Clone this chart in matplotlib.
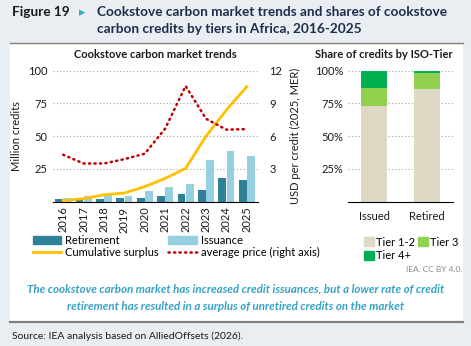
import numpy as np
import matplotlib.pyplot as plt
from matplotlib.patches import Rectangle
from matplotlib.lines import Line2D

plt.rcParams['font.family'] = ['Lato', 'DejaVu Sans']

#### data
years       = ['2016', '2017', '2018', '2019', '2020', '2021', '2022', '2023', '2024', '2025']
retirement  = [1.8, 1.0, 2.0, 3.0, 2.8, 4.3, 5.9, 8.9, 17.8, 16.5]
issuance    = [2.5, 4.0, 5.0, 4.3, 8.1, 11.0, 13.5, 31.8, 38.9, 35.1]
cum_surplus = [0.8, 2.3, 5.3, 6.6, 11.5, 17.8, 25.4, 50.0, 70.0, 87.8]
avg_price   = [4.3, 3.5, 3.5, 3.9, 4.4, 6.7, 10.6, 7.6, 6.6, 6.65]

share_cats = ['Issued', 'Retired']
tier12     = [73.3, 86.3]
tier3      = [13.2, 12.2]
tier4      = [13.5, 1.5]

### colours
c_bg     = '#e9eef3'
c_ret    = '#2e8198'
c_iss    = '#95cfe0'
c_surp   = '#ffc000'
c_price  = '#c00000'
c_t12    = '#ddd9c4'
c_t3     = '#92d050'
c_t4     = '#00b050'
c_grid   = '#a6a6a6'
c_txt    = '#1a1a1a'

W, H = 471, 346
fig = plt.figure(figsize=(W / 100, H / 100), dpi=100)
fig.patch.set_facecolor(c_bg)

def fx(px):
    return px / W

def fy(py):
    return 1 - py / H

# white panel + rules
fig.patches.append(Rectangle((fx(10), fy(322)), fx(453), (322 - 43) / H,
                             transform=fig.transFigure, facecolor='white', edgecolor='none', zorder=-5))
fig.add_artist(Line2D([fx(10), fx(463)], [fy(43), fy(43)], color='#7f7f7f', lw=1.0))
fig.add_artist(Line2D([fx(10), fx(463)], [fy(322), fy(322)], color='#7f7f7f', lw=1.6))

### header
fig.text(fx(12), fy(12), 'Figure 19', fontsize=9.8, fontweight='bold', color=c_txt, va='center')
fig.text(fx(79), fy(12), '\u25B8', fontsize=9, color='#3aa6d0', va='center')
fig.text(fx(97), fy(12), 'Cookstove carbon market trends and shares of cookstove',
         fontsize=9.8, fontweight='bold', color='#1f2d4d', va='center')
fig.text(fx(97), fy(29), 'carbon credits by tiers in Africa, 2016-2025',
         fontsize=9.8, fontweight='bold', color='#1f2d4d', va='center')

### left chart
ax = fig.add_axes([fx(53), fy(201.7), fx(205), 131 / H])
x = np.arange(len(years))
ax.bar(x - 0.2, retirement, width=0.38, color=c_ret, zorder=2)
ax.bar(x + 0.2, issuance, width=0.38, color=c_iss, zorder=2)
ax.plot(x, cum_surplus, color=c_surp, lw=2, zorder=3)
ax.set_xlim(-0.5, 9.55)
ax.set_ylim(0, 100)
ax.set_yticks([25, 50, 75, 100])
ax.yaxis.grid(True, color=c_grid, ls=(0, (1, 2)), lw=0.8)
ax.set_xticks(x)
ax.set_xticklabels(years, rotation=90, fontsize=8, color=c_txt)
ax.tick_params(axis='both', length=0, labelsize=8, colors=c_txt)
ax.tick_params(axis='y', pad=4)
for s in ['left', 'right', 'top']:
    ax.spines[s].set_visible(False)
ax.spines['bottom'].set_color('black')
ax.set_ylabel('Million credits', fontsize=8, color=c_txt, labelpad=4)
ax.set_title('Cookstove carbon market trends', fontsize=8, fontweight='bold', color=c_txt, pad=9)

ax2 = ax.twinx()
ax2.plot(x, avg_price, color=c_price, lw=1.8, ls=(0, (0.5, 1.7)), dash_capstyle='round', zorder=4)
ax2.set_ylim(0, 12)
ax2.set_yticks([3, 6, 9, 12])
ax2.tick_params(axis='y', length=0, labelsize=8, colors=c_txt, pad=8)
for s in ax2.spines.values():
    s.set_visible(False)
ax2.set_ylabel('USD per credit (2025, MER)', fontsize=8, color=c_txt, labelpad=6)

handles = [Rectangle((0, 0), 1, 1, color=c_ret),
           Line2D([], [], color=c_surp, lw=2),
           Rectangle((0, 0), 1, 1, color=c_iss),
           Line2D([], [], color=c_price, lw=1.8, ls=(0, (0.5, 1.7)), dash_capstyle='round')]
labels = ['Retirement', 'Cumulative surplus', 'Issuance', 'average price (right axis)']
fig.legend(handles, labels, ncol=2, loc='upper left', bbox_to_anchor=(fx(27), fy(229)),
           frameon=False, fontsize=8, handlelength=2.6, handleheight=0.7,
           labelspacing=0.15, columnspacing=0.9, handletextpad=0.3, borderpad=0)

### right chart
axr = fig.add_axes([fx(348), fy(201.7), fx(105), 131 / H])
xr = np.arange(len(share_cats))
b12 = np.array(tier12)
b3 = np.array(tier3)
axr.bar(xr, tier12, width=0.5, color=c_t12, zorder=2)
axr.bar(xr, tier3, width=0.5, bottom=b12, color=c_t3, zorder=2)
axr.bar(xr, tier4, width=0.5, bottom=b12 + b3, color=c_t4, zorder=2)
axr.set_xlim(-0.5, 1.5)
axr.set_ylim(0, 100)
axr.set_yticks([25, 50, 75, 100])
axr.set_yticklabels(['25%', '50%', '75%', '100%'])
axr.yaxis.grid(True, color=c_grid, ls=(0, (1, 2)), lw=0.8)
axr.set_xticks(xr)
axr.set_xticklabels(share_cats)
axr.tick_params(axis='both', length=0, labelsize=8, colors=c_txt)
axr.tick_params(axis='x', pad=7)
for s in ['left', 'right', 'top']:
    axr.spines[s].set_visible(False)
axr.spines['bottom'].set_color('black')
axr.set_title('Share of credits by ISO-Tier', fontsize=8, fontweight='bold', color=c_txt,
              pad=9, loc='right')

th = [Rectangle((0, 0), 1, 1, color=c_t12), Rectangle((0, 0), 1, 1, color=c_t4),
      Rectangle((0, 0), 1, 1, color=c_t3)]
fig.legend(th, ['Tier 1-2', 'Tier 4+', 'Tier 3'], ncol=2, loc='upper left',
           bbox_to_anchor=(fx(358), fy(231)), frameon=False, fontsize=8,
           handlelength=0.9, handleheight=0.9, labelspacing=0.25, columnspacing=0.3,
           handletextpad=0.2, borderpad=0)

fig.text(fx(462), fy(270), 'IEA. CC BY 4.0.', fontsize=6, color='#8c8c8c', ha='right', va='center')

### caption
fig.text(fx(236), fy(289), 'The cookstove carbon market has increased credit issuances, but a lower rate of credit',
         fontsize=8.3, fontweight='bold', style='italic', color='#35a2c4', ha='center', va='center')
fig.text(fx(236), fy(306), 'retirement has resulted in a surplus of unretired credits on the market',
         fontsize=8.3, fontweight='bold', style='italic', color='#35a2c4', ha='center', va='center')
fig.text(fx(12), fy(336), 'Source: IEA analysis based on AlliedOffsets (2026).',
         fontsize=7.5, color=c_txt, va='center')

fig.savefig('out.png', dpi=100, facecolor=fig.get_facecolor())
